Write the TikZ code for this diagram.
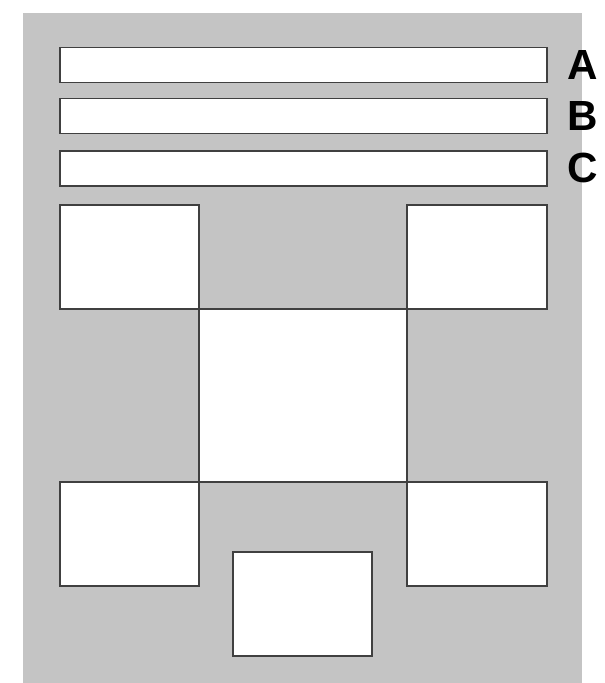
\documentclass[tikz,border=0pt]{standalone}
\usepackage{fontspec}
\setsansfont{Liberation Sans}
\usetikzlibrary{positioning}
\definecolor{sheet}{HTML}{C4C4C4}
\definecolor{edge}{HTML}{404040}
\tikzset{
  panel/.style={draw=edge,fill=white,line width=0.85pt,inner sep=0pt,outer sep=0pt},
  tag/.style={font=\sffamily\bfseries\fontsize{24}{24}\selectfont,inner sep=0pt}
}
\begin{document}
\begin{tikzpicture}[x=0.02cm,y=-0.02cm]
\useasboundingbox (0,0) rectangle (605,683);
\fill[sheet] (23,13) rectangle (582,683);
% strips
\node[panel,minimum width=487*0.02cm,minimum height=35*0.02cm] (barA) at (303.5,65) {};
\node[panel,minimum width=487*0.02cm,minimum height=35*0.02cm] (barB) at (303.5,116) {};
\node[panel,minimum width=487*0.02cm,minimum height=35*0.02cm] (barC) at (303.5,168.5) {};
\node[tag] (tagA) at (583,65) {A};
\node[tag] (tagB) at (583,116) {B};
\node[tag] (tagC) at (583,168) {C};
% corner panels
\node[panel,minimum width=139*0.02cm,minimum height=104*0.02cm] (tl) at (129.5,257) {};
\node[panel,minimum width=140*0.02cm,minimum height=104*0.02cm] (tr) at (477,257) {};
\node[panel,minimum width=139*0.02cm,minimum height=104*0.02cm] (bl) at (129.5,534) {};
\node[panel,minimum width=140*0.02cm,minimum height=104*0.02cm] (br) at (477,534) {};
% centre and bottom
\node[panel,minimum width=208*0.02cm,minimum height=173*0.02cm] (mid) at (303,395.5) {};
\node[panel,minimum width=139*0.02cm,minimum height=104*0.02cm] (low) at (302.5,604) {};
\end{tikzpicture}
\end{document}
